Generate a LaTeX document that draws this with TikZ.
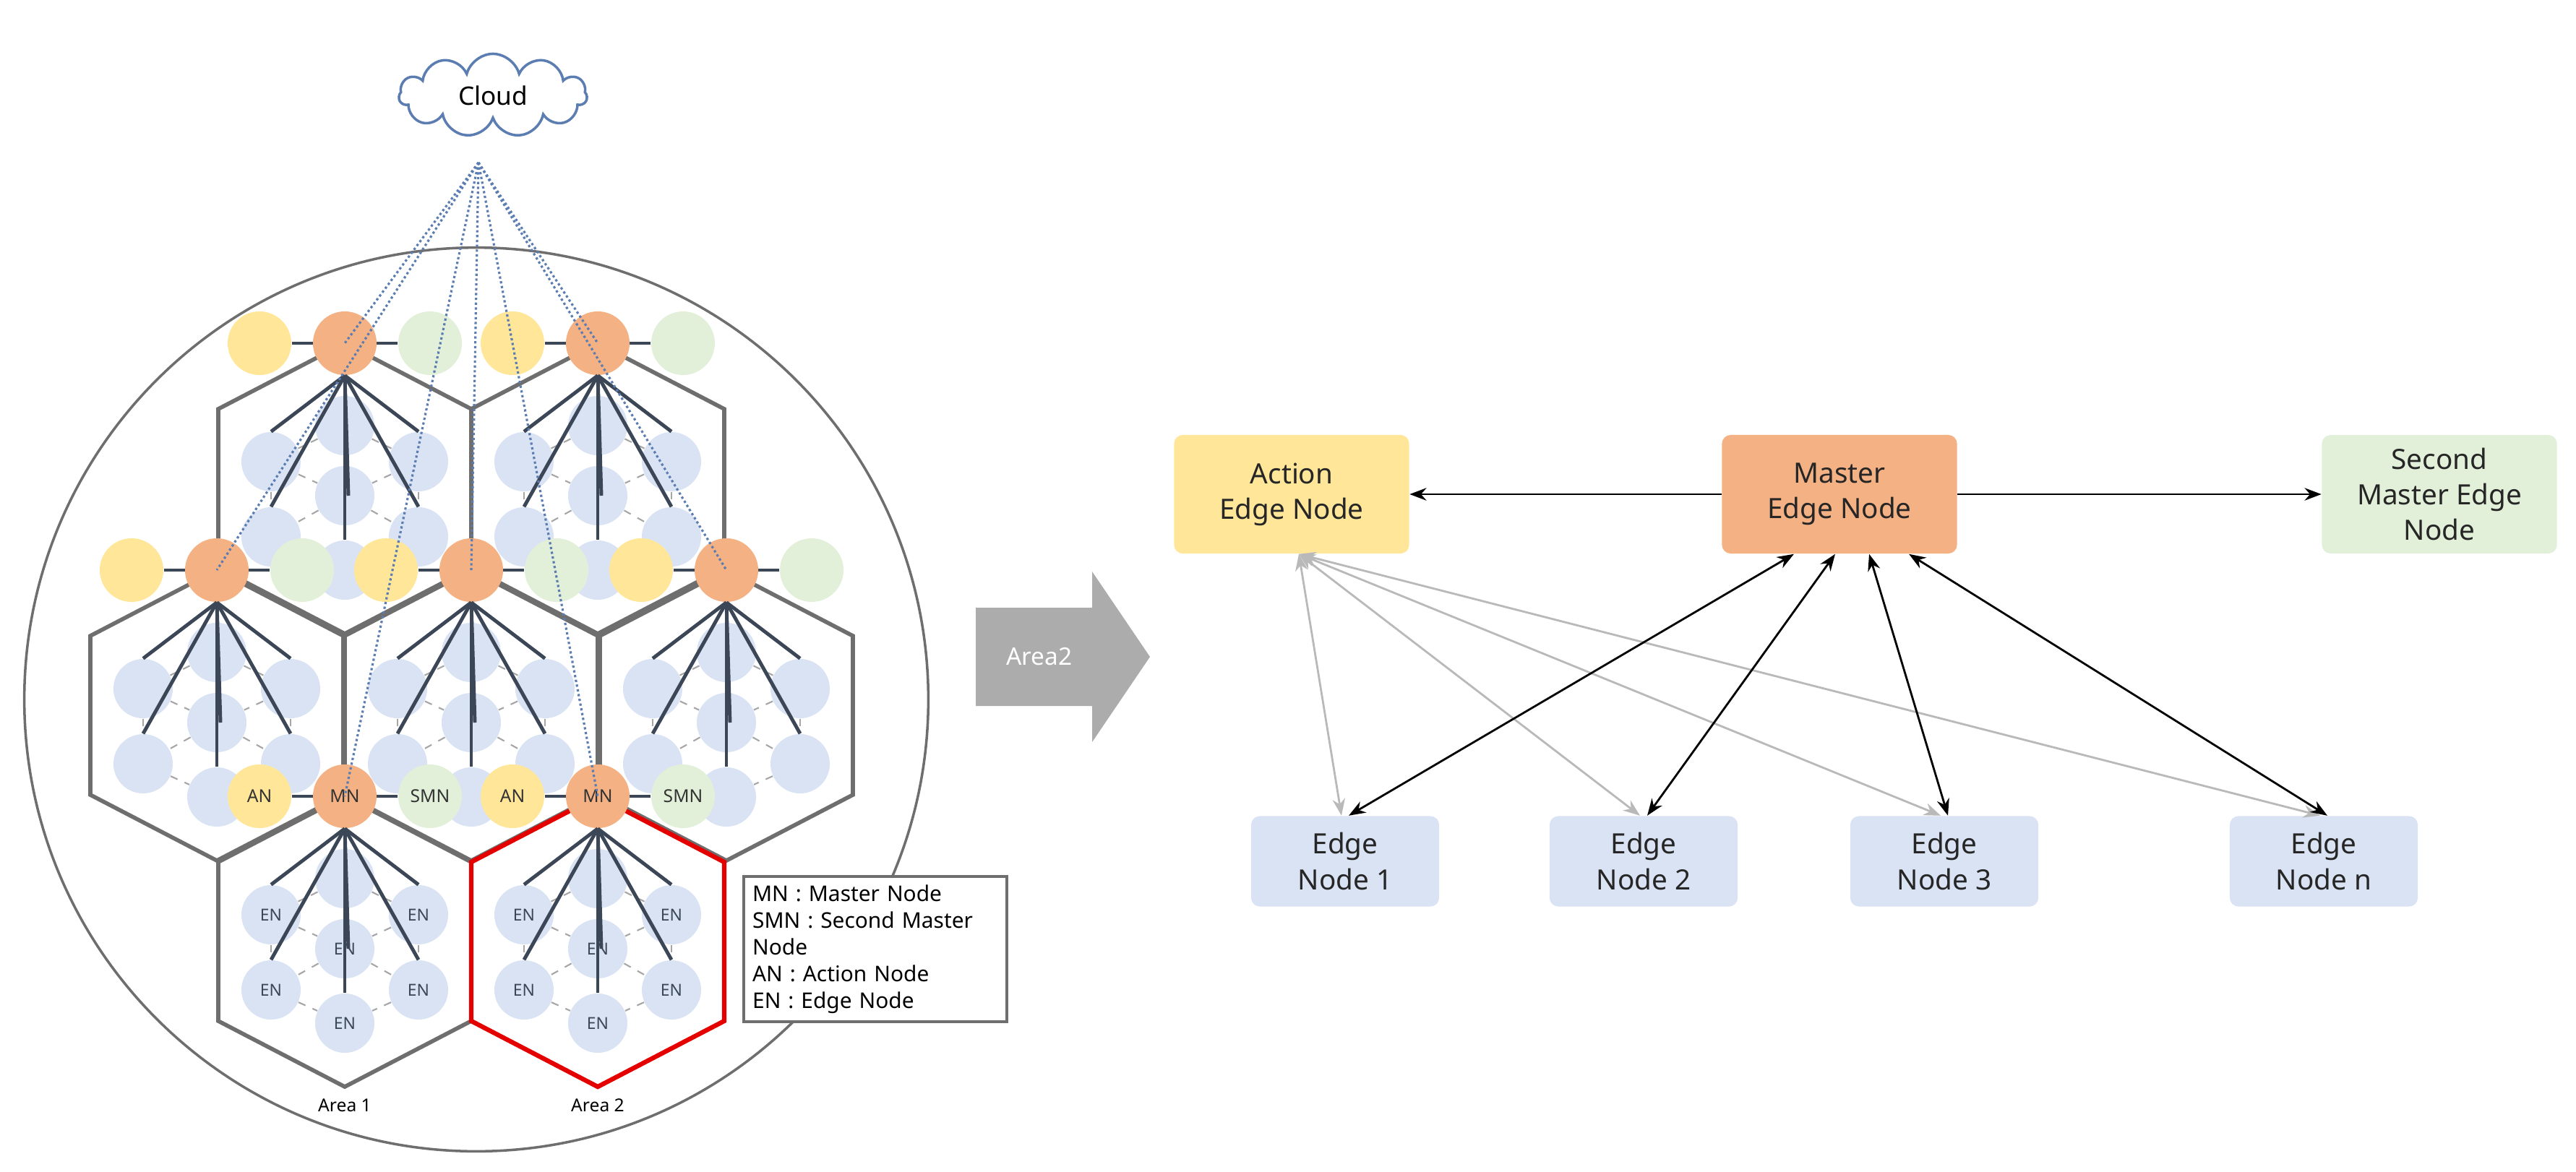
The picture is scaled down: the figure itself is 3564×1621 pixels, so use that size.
\documentclass[tikz,border=0pt]{standalone}
\usepackage{fontspec}
\setmainfont{Noto Sans}
\usetikzlibrary{shapes.symbols,arrows.meta}
\definecolor{orn}{HTML}{F4B183}
\definecolor{yel}{HTML}{FFE699}
\definecolor{grn}{HTML}{E2F0D9}
\definecolor{blu}{HTML}{DAE3F3}
\definecolor{dk}{HTML}{3B4656}
\definecolor{hexg}{HTML}{6E6E6E}
\definecolor{cl}{HTML}{5B7DB1}
\newcommand\hexcell[4]{%
  \node[en] (#3t) at ({#1},{#2+114}) {};
  \node[en] (#3ul) at ({#1-102},{#2+164}) {#4};
  \node[en] (#3ur) at ({#1+102},{#2+164}) {#4};
  \node[en] (#3c) at ({#1},{#2+211}) {#4};
  \node[en] (#3ll) at ({#1-102},{#2+268}) {#4};
  \node[en] (#3lr) at ({#1+102},{#2+268}) {#4};
  \node[en] (#3b) at ({#1},{#2+314}) {#4};
  \foreach \p/\q in {t/ul,t/ur,ul/c,ur/c,ul/ll,ur/lr,c/ll,c/lr,ll/b,lr/b}
    \draw[endash] (#3\p) -- (#3\q);
}
\newcommand\hexline[2]{%
  \draw[hexl] ({#1},{#2}) -- ({#1+175},{#2+91}) -- ({#1+175},{#2+311}) -- ({#1},{#2+402}) -- ({#1-175},{#2+311}) -- ({#1-175},{#2+91}) -- cycle;}
\newcommand\trio[6]{%
  \node[ball,fill=yel] (#3an) at ({#1-118},{#2}) {#4};
  \node[ball,fill=grn] (#3smn) at ({#1+118},{#2}) {#6};
  \draw[dkl] (#3an) -- (#3smn);
  \node[ball,fill=orn] (#3mn) at ({#1},{#2}) {#5};
  \foreach \q in {ul,ur,ll,lr,b}
    \draw[dkl] (#3mn.south) -- (#3\q.north);
  \draw[dkl] (#3mn.south) -- ([xshift=0.05cm]#3c.center);
}
\begin{document}
\begin{tikzpicture}[x=0.01cm,y=-0.01cm,
  en/.style={circle,fill=blu,minimum size=0.82cm,inner sep=0pt,font=\fontsize{6.5}{7}\selectfont,text=dk},
  endash/.style={draw=gray!70,dashed,line width=0.6pt},
  hexl/.style={draw=hexg,line width=1.6pt},
  dkl/.style={draw=dk,line width=1.4pt},
  ball/.style={circle,minimum size=0.88cm,inner sep=0pt,font=\fontsize{7}{8}\selectfont,text=black!80},
  box/.style={rounded corners=0.12cm,minimum width=3.25cm,minimum height=1.64cm,align=center,font=\fontsize{11}{14}\selectfont,text=black!85},
  ebox/.style={rounded corners=0.12cm,fill=blu,minimum width=2.6cm,minimum height=1.25cm,align=center,font=\fontsize{11}{14}\selectfont,text=black!85},
  bar/.style={-Stealth,line width=0.8pt},
  dbar/.style={Stealth-Stealth,line width=0.8pt},
  gbar/.style={Stealth-Stealth,line width=0.8pt,draw=gray!55,color=gray!55}]
\useasboundingbox (0,0) rectangle (3564,1621);
% big circle
\draw[hexg,line width=1pt] (659,968) circle[radius=6.25cm];
% cloud
\node[cloud,draw=cl,line width=1pt,fill=white,cloud puffs=11,aspect=2.3,minimum width=2.6cm,minimum height=1.15cm,font=\fontsize{10}{12}\selectfont] (cloud) at (682,132) {Cloud};
\coordinate (cb) at (662,225);
% cells
\hexcell{477}{475}{A}{}
\hexcell{827}{475}{B}{}
\hexcell{300}{789}{C}{}
\hexcell{652}{789}{D}{}
\hexcell{1005}{789}{E}{}
\hexcell{477}{1102}{F}{EN}
\hexcell{827}{1102}{G}{EN}
\hexline{477}{475}\hexline{827}{475}
\hexline{300}{789}\hexline{652}{789}\hexline{1005}{789}
\hexline{477}{1102}
\draw[draw=red!90!black,line width=1.8pt] (827,1102) -- (1002,1193) -- (1002,1413) -- (827,1504) -- (652,1413) -- (652,1193) -- cycle;
\trio{477}{475}{A}{}{}{}
\trio{827}{475}{B}{}{}{}
\trio{300}{789}{C}{}{}{}
\trio{652}{789}{D}{}{}{}
\trio{1005}{789}{E}{}{}{}
\trio{477}{1102}{F}{AN}{MN}{SMN}
\trio{827}{1102}{G}{AN}{MN}{SMN}
\foreach \m in {A,B,C,D,E,F,G}
  \draw[cl,densely dotted,line width=0.9pt] (cb) -- (\m mn.center);
\node[font=\fontsize{7}{8}\selectfont] (a1) at (477,1530) {Area 1};
\node[font=\fontsize{7}{8}\selectfont] (a2) at (827,1530) {Area 2};
% legend
\node[draw=hexg,line width=1.2pt,fill=white,minimum width=3.64cm,minimum height=1.94cm,align=left,text width=3.4cm,font=\fontsize{8.5}{10.5}\selectfont,anchor=north west] (leg) at (1027,1211) {MN : Master Node\\SMN : Second Master Node\\AN : Action Node\\EN : Edge Node};
% big arrow
\fill[gray!65] (1350,841) -- (1511,841) -- (1511,791) -- (1591,909) -- (1511,1027) -- (1511,977) -- (1350,977) -- cycle;
\node[text=white,font=\fontsize{9.5}{11}\selectfont] (ar) at (1438,909) {Area2};
% right side
\node[box,fill=yel] (act) at (1787,684) {Action\\Edge Node};
\node[box,fill=orn] (mas) at (2545,684) {Master\\Edge Node};
\node[box,fill=grn] (sec) at (3375,684) {Second\\Master Edge\\Node};
\node[ebox] (e1) at (1861,1192) {Edge\\Node 1};
\node[ebox] (e2) at (2274,1192) {Edge\\Node 2};
\node[ebox] (e3) at (2690,1192) {Edge\\Node 3};
\node[ebox] (en) at (3215,1192) {Edge\\Node n};
\draw[bar] (mas.west) -- (act.east);
\draw[bar] (mas.east) -- (sec.west);
\foreach \e in {e1,e2,e3,en}
  \draw[gbar] ([xshift=0.1cm]act.south) -- ([xshift=-0.05cm]\e.north);
\draw[dbar] ([xshift=-0.63cm]mas.south) -- ([xshift=0.05cm]e1.north);
\draw[dbar] ([xshift=-0.06cm]mas.south) -- ([xshift=0.05cm]e2.north);
\draw[dbar] ([xshift=0.41cm]mas.south) -- ([xshift=0.05cm]e3.north);
\draw[dbar] ([xshift=0.96cm]mas.south) -- ([xshift=0.05cm]en.north);
\end{tikzpicture}
\end{document}
